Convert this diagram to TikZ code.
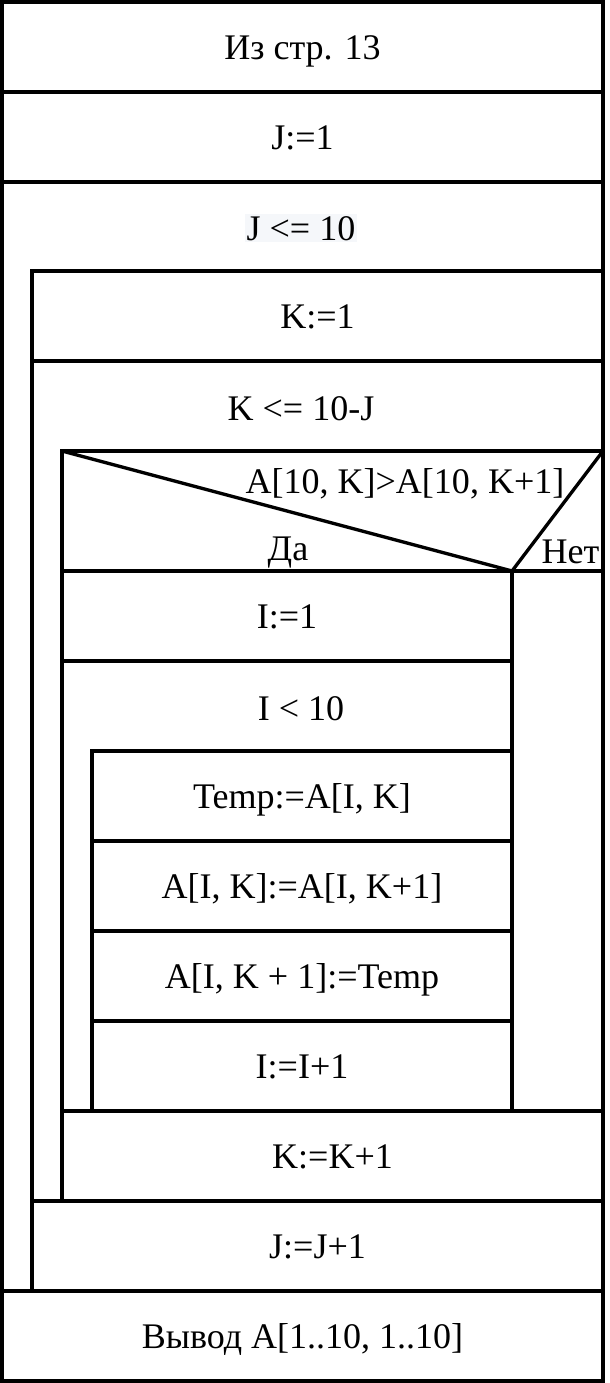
\documentclass[tikz,border=0pt]{standalone}
\usepackage{fontspec}
\setmainfont{Liberation Serif}
\begin{document}
\begin{tikzpicture}[x=0.02cm, y=-0.02cm, line width=1.9pt,
    every node/.style={font=\fontsize{20.5}{24}\selectfont, inner sep=0pt, anchor=base}]
            \def\xL{2}
            \def\xR{603}
            \def\xN{512}

            \definecolor{colHL}{HTML}{F5F7FA}

            \useasboundingbox (0,0) rectangle (609,1383);

            % name, left, right, top, bottom, text
            \newcommand{\blk}[6]{
                \draw (#2,#4) rectangle (#3,#5);
                \node (#1) at ({(#2+#3)/2}, {(#4+#5)/2+12}) {#6};
            }

            % Top blocks
            \blk{from}{\xL}{\xR}{2}{92}{Из стр. 13}
            \blk{initJ}{\xL}{\xR}{92}{182}{J:=1}

            % Loop on J
            \draw (\xL,182) -- (\xR,182) -- (\xR,271) -- (32,271) -- (32,1291) -- (\xL,1291) -- cycle;
            \node[fill=colHL, inner sep=1pt] (loopJ) at (301,240) {J <= 10};
            \blk{initK}{32}{\xR}{271}{361}{K:=1}

            % Loop on K
            \draw (32,361) -- (\xR,361) -- (\xR,451) -- (62,451) -- (62,1201) -- (32,1201) -- cycle;
            \node (loopK) at (301,420) {K <= 10-J};

            % Condition
            \draw (62,451) rectangle (\xR,571);
            \draw (62,451) -- (\xN,571) -- (\xR,451);
            \node (cond) at (405,493) {A[10, K]>A[10, K+1]};
            \node (yes) at (288,560) {Да};
            \node[anchor=base east] (no) at (601,563) {Нет};
            \draw (\xN,571) rectangle (\xR,1111);

            % Branch "Да"
            \blk{initI}{62}{\xN}{571}{661}{I:=1}
            \draw (62,661) -- (\xN,661) -- (\xN,751) -- (92,751) -- (92,1111) -- (62,1111) -- cycle;
            \node (loopI) at (301,720) {I < 10};
            \foreach \nm/\yT/\txt in {tmp/751/{Temp:=A[I, K]}, swapA/841/{A[I, K]:=A[I, K+1]},
                                      swapB/931/{A[I, K + 1]:=Temp}, incI/1021/{I:=I+1}} {
                \blk{\nm}{92}{\xN}{\yT}{\yT+90}{\txt}
            }

            % Bottom blocks
            \blk{incK}{62}{\xR}{1111}{1201}{K:=K+1}
            \blk{incJ}{32}{\xR}{1201}{1291}{J:=J+1}
            \blk{out}{\xL}{\xR}{1291}{1381}{Вывод A[1..10, 1..10]}
        \end{tikzpicture}
\end{document}
